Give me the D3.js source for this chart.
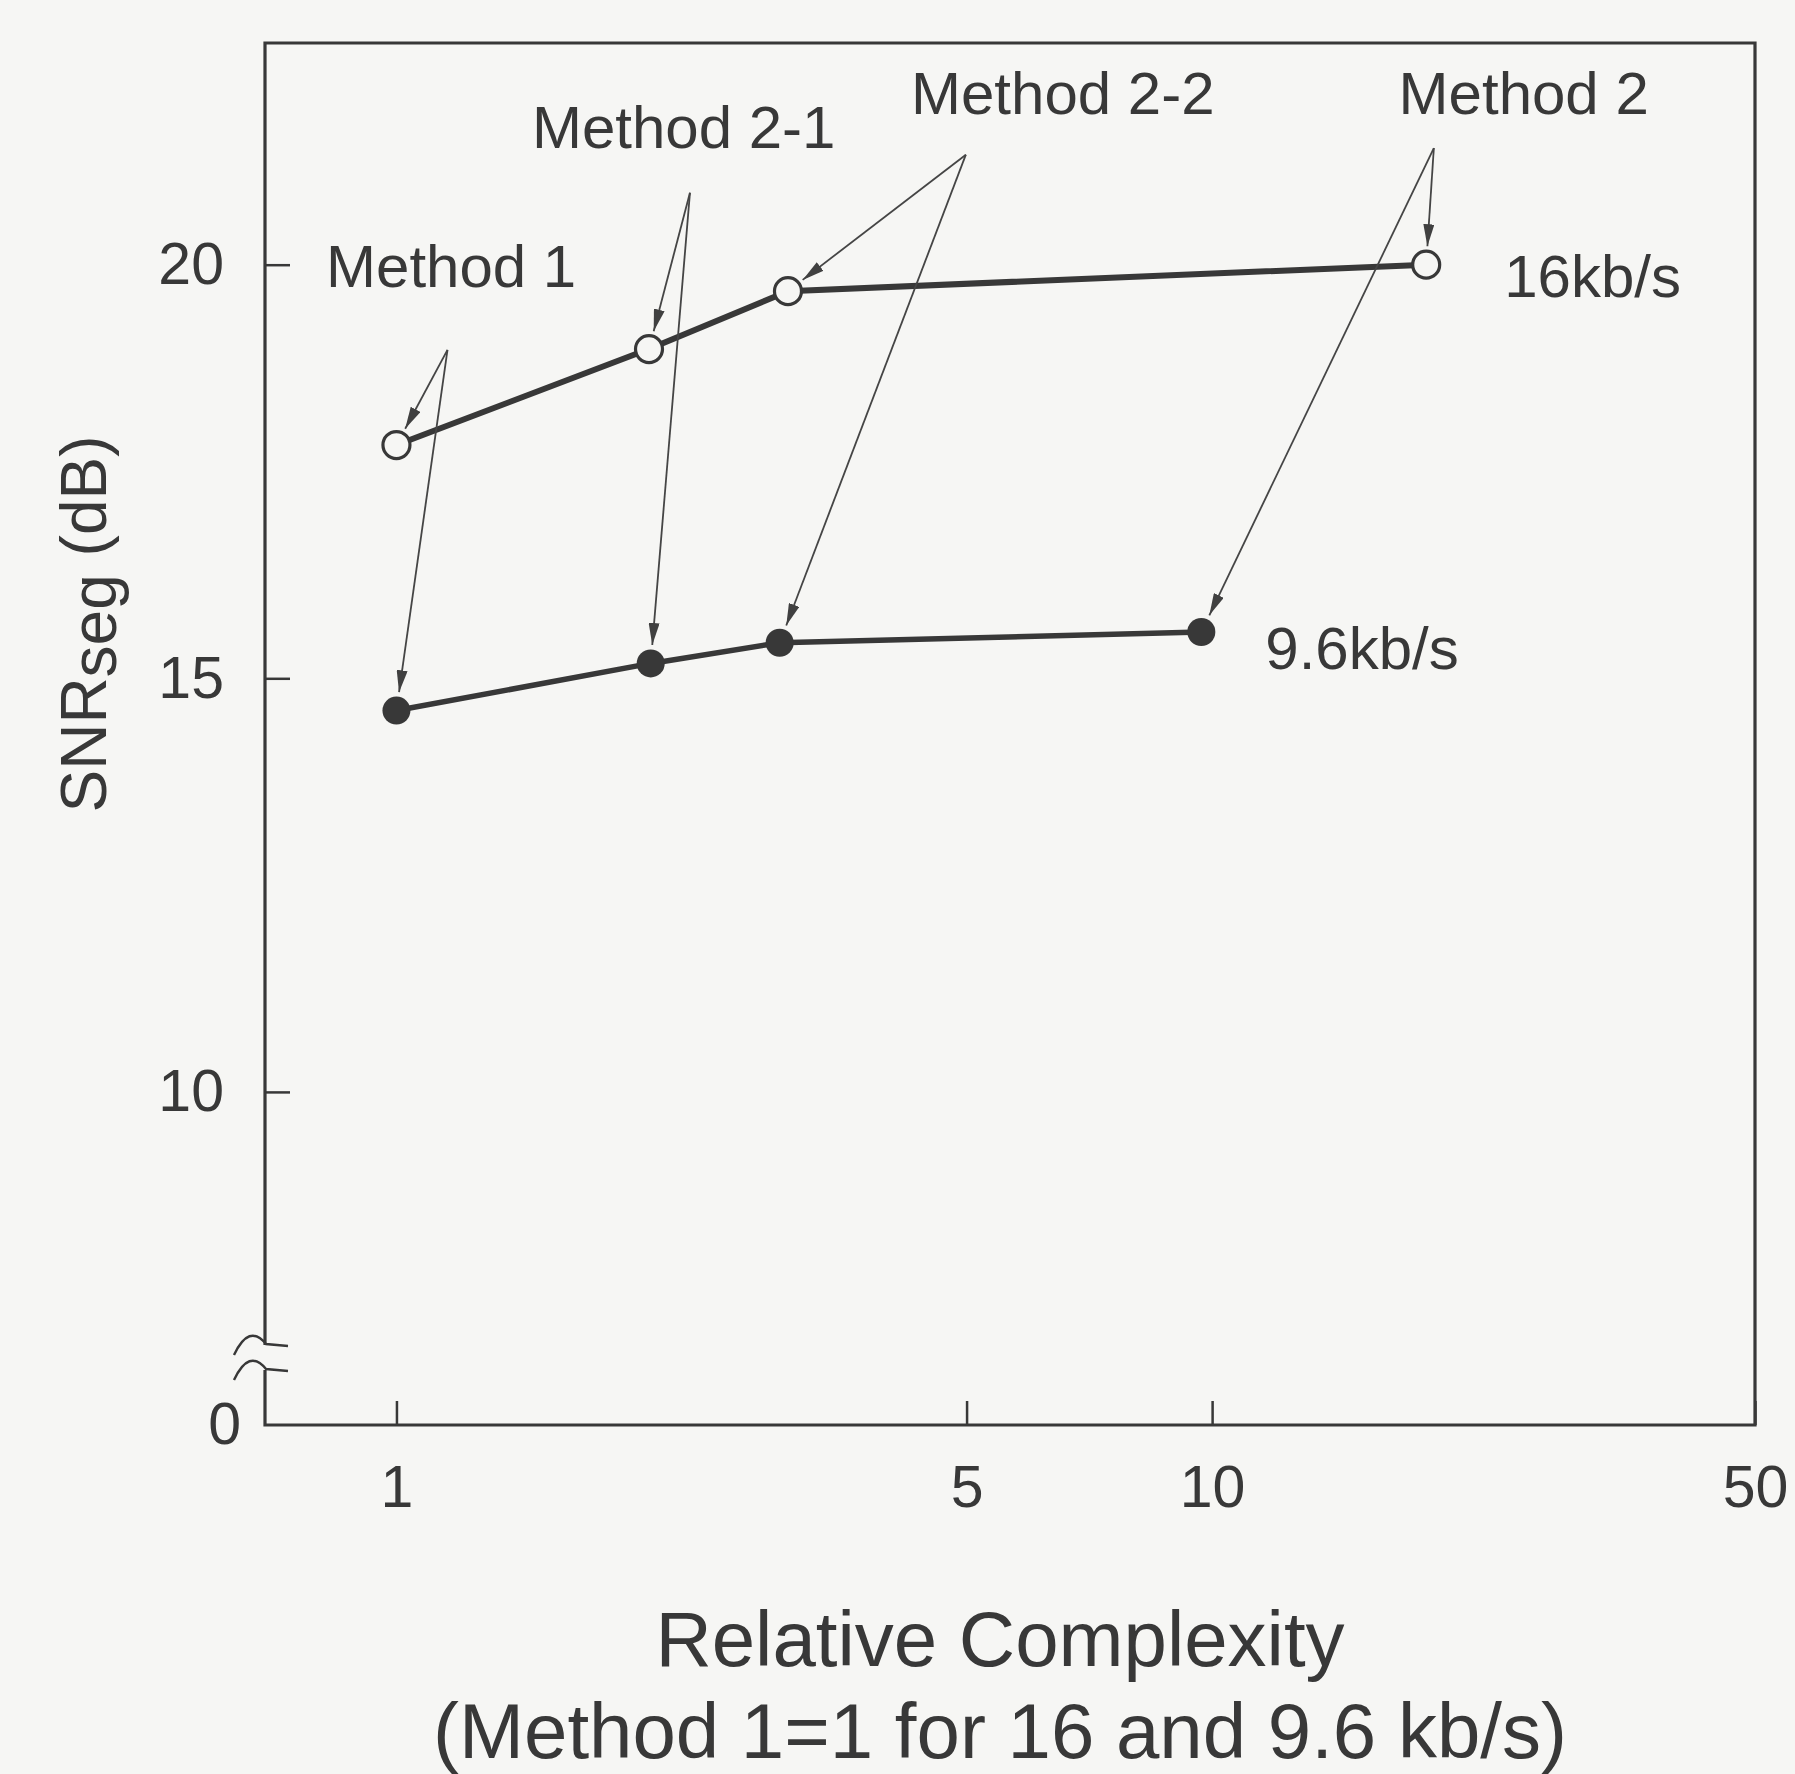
<!DOCTYPE html>
<html>
<head>
<meta charset="utf-8">
<script src="https://cdn.jsdelivr.net/npm/d3@7"></script>
<style>
  body { margin: 0; background: #f6f6f4; }
  svg { display: block; }
  text { font-family: "Liberation Sans", Arial, Helvetica, sans-serif; fill: #383838; }
</style>
</head>
<body>
<div id="chart"></div>
<script>
// values
var methods = ["Method 1", "Method 2-1", "Method 2-2", "Method 2"];
var complexity16 = [1.0, 2.04, 3.02, 18.3];
var snr16 = [17.82, 18.98, 19.68, 20.0];
var complexity96 = [1.0, 2.05, 2.95, 9.7];
var snr96 = [14.61, 15.18, 15.43, 15.56];
var seriesNames = ["16kb/s", "9.6kb/s"];
var xTickValues = [1, 5, 10, 50];
var yTickValues = [0, 10, 15, 20];

var width = 1795, height = 1774;
var margin = { top: 43, right: 40, bottom: 349, left: 265 };
var ink = "#383838";

var svg = d3.select("#chart").append("svg")
    .attr("width", width)
    .attr("height", height);

var x0 = margin.left, x1 = width - margin.right;
var y0 = height - margin.bottom, y1 = margin.top;

// log axis, right edge is labelled 50
var x = d3.scaleLog()
    .domain([0.69, 46.3])
    .range([x0, x1])
    .clamp(true);

// broken axis: 0 sits below the break, the rest is linear
var y = d3.scaleLinear()
    .domain([0, 6.88, 22.68])
    .range([y0, 1350, y1]);

var defs = svg.append("defs");
defs.append("marker")
    .attr("id", "arrow")
    .attr("viewBox", "0 0 22 11")
    .attr("refX", 22)
    .attr("refY", 5.5)
    .attr("markerWidth", 22)
    .attr("markerHeight", 11)
    .attr("markerUnits", "userSpaceOnUse")
    .attr("orient", "auto")
  .append("path")
    .attr("d", "M0,0 L22,5.5 L0,11 Z")
    .attr("fill", "#404040");

// axes
var xAxis = d3.axisBottom(x)
    .tickValues(xTickValues)
    .tickFormat(d3.format("d"))
    .tickSizeInner(-24)
    .tickSizeOuter(0)
    .tickPadding(40);

var yAxis = d3.axisLeft(y)
    .tickValues(yTickValues)
    .tickFormat(d3.format("d"))
    .tickSizeInner(-25)
    .tickSizeOuter(0)
    .tickPadding(41);

var gx = svg.append("g")
    .attr("transform", "translate(0," + y0 + ")")
    .call(xAxis);
var gy = svg.append("g")
    .attr("transform", "translate(" + x0 + ",0)")
    .call(yAxis);

[gx, gy].forEach(function (g) {
    g.select(".domain").remove();
    g.selectAll(".tick line").attr("stroke", ink).attr("stroke-width", 2.5);
    g.selectAll(".tick text")
        .attr("fill", "#383838")
        .style("font-size", "59px")
        .style("font-family", "'Liberation Sans', Arial, sans-serif");
});
// 0 sits at the corner, a bit closer to the axis
gy.selectAll(".tick").filter(function (d) { return d === 0; })
    .select("text").attr("x", -24);
gy.selectAll(".tick").filter(function (d) { return d === 0; })
    .select("line").remove();

// frame with break on left axis
var breakTop = 1345, breakBottom = 1370;
var frame = svg.append("g")
    .attr("fill", "none")
    .attr("stroke", ink)
    .attr("stroke-width", 3.2);

frame.append("path")
    .attr("d", "M" + x0 + "," + breakTop + "V" + y1 + "H" + x1 + "V" + y0 + "H" + x0 + "V" + breakBottom);

[breakTop, breakBottom].forEach(function (by) {
    frame.append("path")
        .attr("stroke-width", 2.4)
        .attr("d", "M" + (x0 - 31) + "," + (by + 10) +
            " Q" + (x0 - 16) + "," + (by - 22) + " " + (x0 + 1) + "," + (by - 1) +
            " L" + (x0 + 23) + "," + (by + 1));
});

// series
var series = [
    { name: seriesNames[0], xs: complexity16, ys: snr16, open: true, labelDx: 78, labelDy: 32 },
    { name: seriesNames[1], xs: complexity96, ys: snr96, open: false, labelDx: 64, labelDy: 37 }
];

var line = d3.line()
    .x(function (d) { return x(d[0]); })
    .y(function (d) { return y(d[1]); });

var r = 13.5;

series.forEach(function (s) {
    var pts = d3.zip(s.xs, s.ys);
    svg.append("path")
        .datum(pts)
        .attr("d", line)
        .attr("fill", "none")
        .attr("stroke", ink)
        .attr("stroke-width", s.open ? 6 : 5.5);

    svg.selectAll(null)
        .data(pts)
        .enter().append("circle")
        .attr("cx", function (d) { return x(d[0]); })
        .attr("cy", function (d) { return y(d[1]); })
        .attr("r", s.open ? r : r + 0.5)
        .attr("fill", s.open ? "#f6f6f4" : ink)
        .attr("stroke", ink)
        .attr("stroke-width", s.open ? 3.2 : 0);

    var last = pts[pts.length - 1];
    svg.append("text")
        .attr("x", x(last[0]) + s.labelDx)
        .attr("y", y(last[1]) + s.labelDy)
        .style("font-size", "60px")
        .text(s.name);
});

// method annotations: label, apex of the two arrows (data units)
var labelAt = [[1.167, 19.73], [2.25, 21.41], [6.56, 21.82], [24.1, 21.82]];
var apexAt = [[1.155, 18.97], [2.29, 20.87], [4.99, 21.33], [18.7, 21.41]];

methods.forEach(function (m, i) {
    svg.append("text")
        .attr("x", x(labelAt[i][0]))
        .attr("y", y(labelAt[i][1]))
        .attr("text-anchor", "middle")
        .style("font-size", "60px")
        .text(m);

    var ax = x(apexAt[i][0]), ay = y(apexAt[i][1]);
    series.forEach(function (s) {
        var tx = x(s.xs[i]), ty = y(s.ys[i]);
        var dx = tx - ax, dy = ty - ay;
        var len = Math.sqrt(dx * dx + dy * dy);
        var back = r + 5;
        svg.append("line")
            .attr("x1", ax).attr("y1", ay)
            .attr("x2", tx - dx / len * back)
            .attr("y2", ty - dy / len * back)
            .attr("stroke", "#454545")
            .attr("stroke-width", 1.8)
            .attr("marker-end", "url(#arrow)");
    });
});

// axis titles
svg.append("text")
    .attr("x", 1000)
    .attr("y", 1666)
    .attr("text-anchor", "middle")
    .style("font-size", "78px")
    .text("Relative Complexity");

svg.append("text")
    .attr("x", 1000)
    .attr("y", 1758)
    .attr("text-anchor", "middle")
    .style("font-size", "78px")
    .text("(Method 1=1 for 16 and 9.6 kb/s)");

var yTitle = svg.append("text")
    .attr("transform", "translate(106,624) rotate(-90)")
    .attr("text-anchor", "middle")
    .style("font-size", "64px");
yTitle.append("tspan").text("SNR");
yTitle.append("tspan").attr("dy", 10).text("seg");
yTitle.append("tspan").attr("dy", -10).text(" (dB)");
</script>
</body>
</html>
